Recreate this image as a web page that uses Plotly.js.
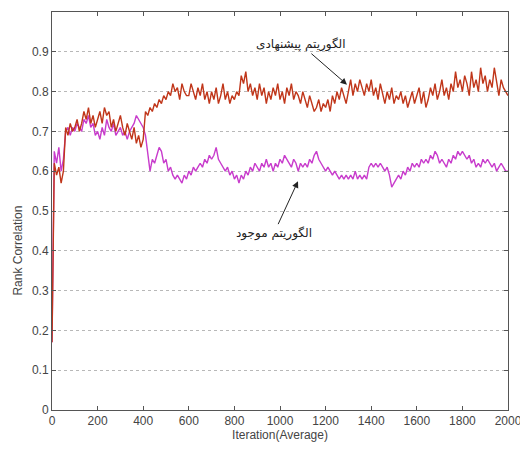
<!DOCTYPE html>
<html>
<head>
<meta charset="utf-8">
<script src="https://cdn.plot.ly/plotly-3.0.1.min.js"></script>
<style>html,body{margin:0;padding:0;background:#fff;}#chart{width:520px;height:449px;}</style>
</head>
<body>
<div id="chart"></div>
<script>
// Iteration values sampled every 10 iterations (0..2000)
const iterStep = 10;
const proposed = [
0.17,0.62,0.59,0.61,0.57,0.60,0.71,0.69,0.72,0.70,
0.71,0.73,0.70,0.72,0.75,0.73,0.76,0.72,0.74,0.71,
0.73,0.75,0.72,0.76,0.74,0.75,0.71,0.73,0.70,0.72,
0.74,0.71,0.69,0.72,0.70,0.68,0.71,0.67,0.69,0.66,
0.68,0.75,0.74,0.76,0.75,0.77,0.76,0.78,0.77,0.79,
0.78,0.80,0.79,0.82,0.80,0.81,0.78,0.82,0.80,0.79,
0.79,0.82,0.80,0.78,0.81,0.79,0.82,0.78,0.80,0.77,
0.80,0.78,0.81,0.77,0.79,0.82,0.78,0.80,0.77,0.79,
0.78,0.80,0.79,0.84,0.82,0.85,0.80,0.82,0.79,0.81,
0.78,0.82,0.79,0.81,0.77,0.80,0.78,0.81,0.79,0.82,
0.78,0.80,0.77,0.81,0.79,0.82,0.78,0.80,0.79,0.77,
0.80,0.78,0.76,0.79,0.77,0.75,0.76,0.78,0.75,0.77,
0.76,0.78,0.75,0.79,0.77,0.80,0.78,0.81,0.79,0.77,
0.80,0.83,0.79,0.82,0.80,0.83,0.81,0.79,0.82,0.80,
0.83,0.79,0.81,0.78,0.82,0.79,0.77,0.80,0.78,0.81,
0.77,0.79,0.78,0.80,0.77,0.79,0.76,0.78,0.80,0.77,
0.79,0.81,0.77,0.80,0.76,0.78,0.81,0.79,0.82,0.78,
0.80,0.83,0.79,0.81,0.78,0.82,0.80,0.85,0.81,0.83,
0.80,0.84,0.82,0.79,0.85,0.81,0.83,0.80,0.86,0.82,
0.84,0.80,0.83,0.81,0.86,0.82,0.79,0.83,0.81,0.80,
0.79
];
const existing = [
0.17,0.65,0.62,0.66,0.60,0.63,0.70,0.71,0.69,0.71,
0.70,0.72,0.71,0.70,0.73,0.72,0.74,0.71,0.72,0.69,
0.70,0.68,0.71,0.69,0.73,0.71,0.70,0.72,0.69,0.70,
0.71,0.69,0.70,0.68,0.70,0.71,0.72,0.74,0.73,0.72,
0.71,0.69,0.64,0.60,0.63,0.62,0.64,0.66,0.65,0.62,
0.63,0.60,0.61,0.59,0.58,0.59,0.58,0.57,0.59,0.58,
0.60,0.59,0.61,0.60,0.61,0.62,0.61,0.63,0.62,0.64,
0.63,0.64,0.66,0.63,0.62,0.61,0.60,0.61,0.59,0.60,
0.58,0.59,0.57,0.59,0.58,0.60,0.59,0.61,0.60,0.62,
0.61,0.60,0.62,0.61,0.63,0.61,0.62,0.60,0.62,0.61,
0.63,0.62,0.64,0.63,0.62,0.61,0.63,0.62,0.60,0.62,
0.61,0.62,0.61,0.63,0.62,0.64,0.65,0.63,0.62,0.61,
0.60,0.61,0.60,0.59,0.60,0.59,0.58,0.59,0.58,0.59,
0.58,0.59,0.58,0.60,0.58,0.59,0.58,0.59,0.58,0.61,
0.62,0.61,0.62,0.61,0.62,0.61,0.60,0.61,0.59,0.56,
0.57,0.58,0.59,0.58,0.60,0.59,0.61,0.60,0.62,0.61,
0.62,0.61,0.63,0.62,0.63,0.62,0.64,0.63,0.65,0.64,
0.62,0.63,0.62,0.61,0.63,0.62,0.64,0.63,0.65,0.64,
0.65,0.64,0.63,0.64,0.62,0.63,0.61,0.62,0.61,0.63,
0.62,0.63,0.62,0.61,0.62,0.60,0.61,0.62,0.61,0.60,
0.60
];
const xTicks = [0,200,400,600,800,1000,1200,1400,1600,1800,2000];
const yTicks = [0,0.1,0.2,0.3,0.4,0.5,0.6,0.7,0.8,0.9];
const labelProposed = "الگوریتم پیشنهادی";
const labelExisting = "الگوریتم موجود";
const xTitle = "Iteration(Average)";
const yTitle = "Rank Correlation";

const iters = proposed.map((_, i) => i * iterStep);

const traces = [
  {x: iters, y: existing, type: 'scatter', mode: 'lines', line: {color: '#c83ccc', width: 1.4}, name: labelExisting},
  {x: iters, y: proposed, type: 'scatter', mode: 'lines', line: {color: '#c0361a', width: 1.4}, name: labelProposed}
];

const axisFont = {family: 'Liberation Sans Narrow, Liberation Sans, Arial, sans-serif', size: 12, color: '#444'};
const layout = {
  width: 520, height: 449,
  margin: {l: 52, r: 12, t: 12, b: 39},
  paper_bgcolor: '#fff', plot_bgcolor: '#fff',
  showlegend: false,
  font: axisFont,
  xaxis: {
    range: [0, 2000], tickvals: xTicks, ticktext: xTicks.map(String),
    ticklabeloverflow: 'allow',
    showgrid: false, zeroline: false,
    showline: true, linecolor: '#555', linewidth: 1, mirror: 'ticks',
    ticks: 'inside', ticklen: 4, tickcolor: '#555',
    tickfont: axisFont,
    title: {text: xTitle, font: axisFont, standoff: 2}
  },
  yaxis: {
    range: [0, 1], tickvals: yTicks, ticktext: yTicks.map(v => v === 0 ? '0' : v.toFixed(1)),
    showgrid: true, gridcolor: '#b8b8b8', griddash: 'dot', gridwidth: 1,
    zeroline: false,
    showline: true, linecolor: '#555', linewidth: 1, mirror: 'ticks',
    ticks: 'inside', ticklen: 4, tickcolor: '#555',
    tickfont: axisFont
  },
  annotations: [
    {xref: 'paper', yref: 'paper', x: -0.075, y: 0.40, xanchor: 'center', yanchor: 'middle',
     text: yTitle, textangle: -90, showarrow: false, font: axisFont},
    {x: 1294, y: 0.8175, xref: 'x', yref: 'y', text: labelProposed,
     showarrow: true, ax: -46, ay: -40, arrowhead: 2, arrowsize: 1.3, arrowwidth: 1, arrowcolor: '#222',
     font: {family: 'DejaVu Sans, sans-serif', size: 12, color: '#222'}},
    {x: 1079, y: 0.575, xref: 'x', yref: 'y', text: labelExisting,
     showarrow: true, ax: -24, ay: 52, arrowhead: 2, arrowsize: 1.3, arrowwidth: 1, arrowcolor: '#222',
     font: {family: 'DejaVu Sans, sans-serif', size: 12, color: '#222'}}
  ]
};

Plotly.newPlot('chart', traces, layout, {displayModeBar: false, staticPlot: true});
</script>
</body>
</html>
